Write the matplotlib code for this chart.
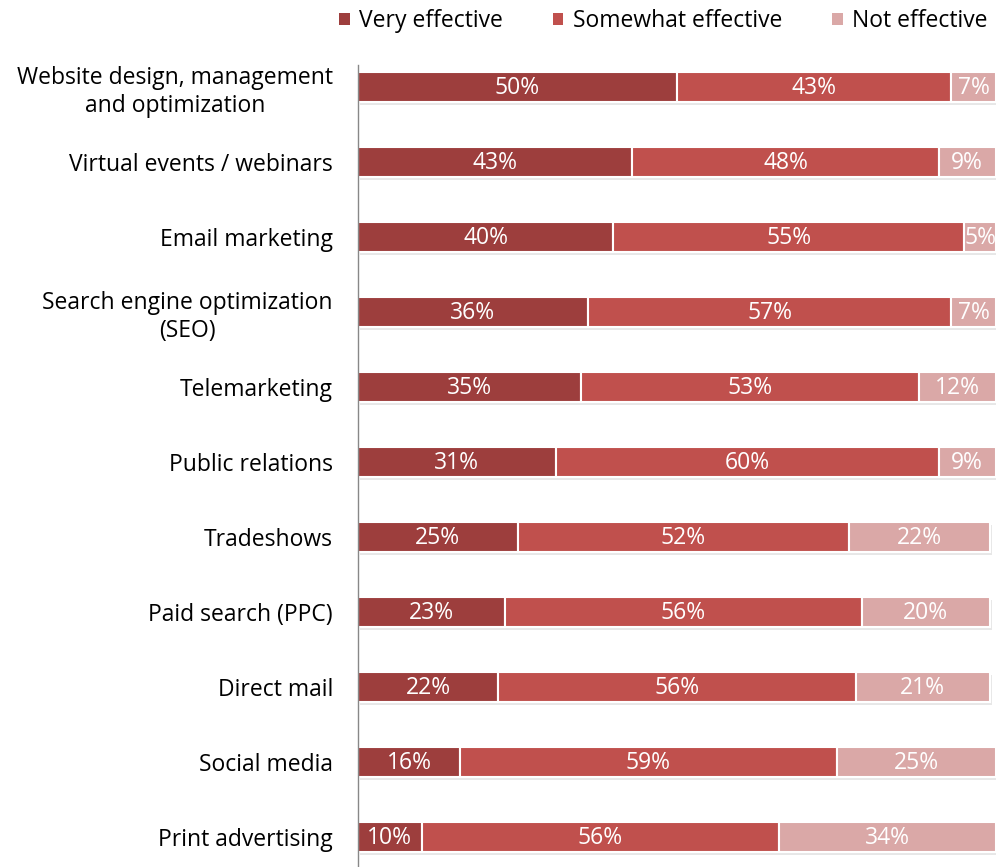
import matplotlib.pyplot as plt
from matplotlib.patches import Patch

categories = [
    "Website design, management\nand optimization",
    "Virtual events / webinars",
    "Email marketing",
    "Search engine optimization\n(SEO)",
    "Telemarketing",
    "Public relations",
    "Tradeshows",
    "Paid search (PPC)",
    "Direct mail",
    "Social media",
    "Print advertising",
]
very = [50, 43, 40, 36, 35, 31, 25, 23, 22, 16, 10]
somewhat = [43, 48, 55, 57, 53, 60, 52, 56, 56, 59, 56]
not_eff = [7, 9, 5, 7, 12, 9, 22, 20, 21, 25, 34]
series_names = ["Very effective", "Somewhat effective", "Not effective"]
colors = ["#9D3E3D", "#C0504D", "#DAA8A7"]

plt.rcParams["font.family"] = ["Open Sans", "DejaVu Sans"]

fig = plt.figure(figsize=(10, 8.67), dpi=100)
ax = fig.add_axes([0.358, 0.0, 0.638, 802 / 867])

y = list(range(len(categories)))
left = [0] * len(categories)
for vals, col in zip([very, somewhat, not_eff], colors):
    # soft shadow under each bar
    ax.barh([v + 0.04 for v in y], vals, left=[l + 0.3 for l in left], height=0.4,
            color="#bbbbbb", alpha=0.35, zorder=1)
    ax.barh(y, vals, left=left, height=0.4, color=col, edgecolor="white",
            linewidth=1.5, zorder=2)
    for yi, v, l in zip(y, vals, left):
        ax.text(l + v / 2, yi + 0.02, f"{v}%", ha="center", va="center",
                color="white", fontsize=16.5, zorder=3)
    left = [l + v for l, v in zip(left, vals)]

ax.set_xlim(0, 100)
ax.set_ylim(10.4, -0.293)
ax.set_yticks(y)
ax.set_yticklabels(categories, fontsize=16.5, multialignment="center",
                   linespacing=1.25)
ax.tick_params(axis="y", length=0, pad=18)
ax.set_xticks([])
for s in ["top", "right", "bottom"]:
    ax.spines[s].set_visible(False)
ax.spines["left"].set_color("#888888")
ax.spines["left"].set_linewidth(1)

handles = [Patch(facecolor=c, edgecolor="none") for c in colors]
fig.legend(handles, series_names, ncol=3, loc="upper right",
           bbox_to_anchor=(1.008, 1.013), frameon=False, fontsize=16.5,
           handlelength=0.45, handleheight=0.45, handletextpad=0.4,
           columnspacing=2.2)

fig.savefig("out.png", dpi=100)
